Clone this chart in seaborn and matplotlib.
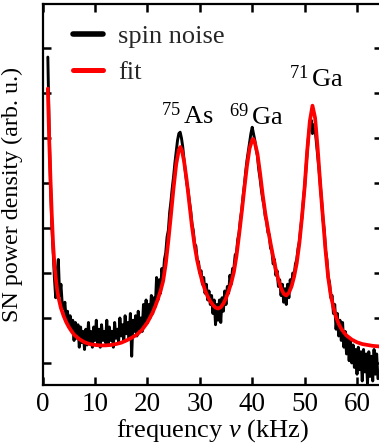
import numpy as np
import pandas as pd
import matplotlib
matplotlib.use("Agg")
import matplotlib.pyplot as plt
import seaborn as sns

# ---- data ----
# measured spin-noise spectrum, sampled every 0.25 kHz from 1.0 to 64.0 kHz
noise_start, noise_step = 1.0, 0.25
noise_values = [
    7.8, 6.2, 5.0, 4.1, 3.5, 2.9, 2.45, 3.0, 3.3, 2.5, 2.75, 2.3,
    2.2, 2.35, 1.95, 2.15, 1.8, 2.05, 1.75, 1.95, 1.5, 1.9, 1.55, 1.85,
    1.35, 1.8, 1.45, 1.7, 1.3, 1.75, 1.4, 1.9, 1.45, 1.7, 1.35, 1.8,
    1.5, 1.95, 1.4, 1.75, 1.35, 1.85, 1.5, 1.7, 1.45, 1.95, 1.4, 1.8,
    1.5, 1.7, 1.35, 1.9, 1.55, 1.75, 1.45, 2.0, 1.6, 1.85, 1.5, 2.05,
    1.65, 1.9, 1.55, 2.1, 1.15, 1.95, 1.7, 2.05, 1.6, 2.15, 1.75, 2.0,
    1.7, 2.3, 1.85, 2.4, 1.9, 2.3, 2.0, 2.5, 2.1, 2.45, 2.25, 2.9,
    2.4, 2.85, 2.55, 3.1, 2.9, 3.3, 3.45, 3.8, 3.95, 4.35, 4.6, 4.9,
    5.15, 5.45, 5.7, 5.95, 6.1, 6.13, 6.0, 5.8, 5.5, 5.25, 5.0, 4.85,
    4.6, 4.4, 4.1, 3.95, 3.65, 3.6, 3.3, 3.25, 3.0, 3.05, 2.75, 2.9,
    2.55, 2.75, 2.4, 2.6, 2.3, 2.5, 2.1, 2.4, 1.85, 2.3, 1.95, 2.4,
    1.9, 2.45, 2.15, 2.6, 2.3, 2.7, 2.55, 2.95, 2.75, 3.1, 3.1, 3.4,
    3.45, 3.75, 3.9, 4.2, 4.4, 4.7, 4.95, 5.25, 5.5, 5.7, 5.9, 6.1,
    6.24, 6.1, 5.95, 5.75, 5.6, 5.3, 5.1, 4.85, 4.65, 4.5, 4.25, 4.15,
    3.9, 3.85, 3.55, 3.5, 3.2, 3.3, 2.95, 3.05, 2.7, 2.85, 2.5, 2.75,
    2.35, 2.65, 2.3, 2.75, 2.45, 2.85, 2.7, 3.0, 2.95, 3.2, 3.3, 3.55,
    3.7, 4.0, 4.25, 4.6, 4.9, 5.3, 5.7, 6.05, 6.3, 6.4, 6.1, 6.3,
    6.2, 5.9, 5.6, 5.3, 4.95, 4.6, 4.2, 3.95, 3.5, 3.3, 2.9, 2.8,
    2.45, 2.5, 2.1, 2.3, 1.75, 2.1, 1.6, 1.95, 1.5, 1.9, 1.35, 1.7,
    1.2, 1.55, 1.05, 1.5, 1.0, 1.4, 0.9, 1.3, 0.75, 1.35, 0.85, 1.25,
    0.6, 1.3, 0.8, 1.2, 0.55, 1.25, 0.7, 1.15, 0.6, 1.3, 0.75, 1.2,
    0.65,
]

# fit curve (frequency in kHz, power in arb. u.)
fit_freq = [
    1.0, 1.25, 1.5, 1.75, 2.0, 2.25, 2.5, 2.75, 3.0, 3.5, 4.0, 4.5, 5.0, 5.5,
    6.0, 7.0, 8.0, 9.0, 10, 11, 12, 13, 14, 15, 16, 17, 18, 19, 20, 21,
    21.5, 22, 22.5, 23, 23.5, 24, 24.5, 25, 25.5, 26, 26.3, 26.6, 27, 27.5,
    28, 28.5, 29, 29.5, 30, 30.5, 31, 31.5, 32, 32.5, 33, 33.5, 34, 34.5,
    35, 35.5, 36, 36.5, 37, 37.5, 38, 38.5, 39, 39.5, 40, 40.2, 40.5, 41,
    41.5, 42, 42.5, 43, 43.5, 44, 44.5, 45, 45.5, 46, 46.5, 47, 47.5, 48,
    48.5, 49, 49.5, 50, 50.5, 51, 51.5, 52, 52.5, 53, 53.5, 54, 54.5, 55,
    55.5, 56, 56.5, 57, 57.5, 58, 59, 60, 61, 62, 63, 64, 64.8,
]
fit_values = [
    7.1, 6.0, 5.1, 4.3, 3.65, 3.2, 2.9, 2.65, 2.47, 2.22, 2.05, 1.91, 1.8, 1.71,
    1.63, 1.53, 1.46, 1.42, 1.4, 1.39, 1.39, 1.4, 1.42, 1.45, 1.5, 1.56, 1.63, 1.74, 1.9, 2.12,
    2.26, 2.42, 2.6, 2.82, 3.2, 3.72, 4.3, 4.9, 5.42, 5.74, 5.8, 5.72, 5.48, 5.06,
    4.55, 4.04, 3.62, 3.28, 3.02, 2.8, 2.62, 2.48, 2.37, 2.29, 2.23, 2.21, 2.24, 2.32,
    2.44, 2.6, 2.78, 3.02, 3.38, 3.85, 4.35, 4.88, 5.38, 5.77, 5.96, 5.98, 5.9, 5.65,
    5.22, 4.74, 4.32, 3.98, 3.66, 3.36, 3.08, 2.85, 2.66, 2.54, 2.5, 2.56, 2.7, 2.92,
    3.22, 3.66, 4.24, 4.9, 5.72, 6.38, 6.72, 6.45, 5.76, 4.95, 4.22, 3.5, 2.9, 2.5,
    2.24, 2.02, 1.87, 1.76, 1.68, 1.61, 1.52, 1.46, 1.42, 1.4, 1.38, 1.37, 1.36,
]

x_ticks = [0, 10, 20, 30, 40, 50, 60]
y_ticks = [1, 2, 3, 4, 5, 6, 7, 8]

peak_labels = [r"$^{75}\,$As", r"$^{69}\,$Ga", r"$^{71}\,$Ga"]
peak_label_x = [27.6, 40.8, 52.2]
peak_label_y = [6.32, 6.3, 7.14]

# ---- style ----
sns.set_theme(style="ticks")
plt.rcParams["font.family"] = ["Liberation Serif", "DejaVu Serif"]
plt.rcParams["mathtext.fontset"] = "custom"
plt.rcParams["mathtext.rm"] = "Liberation Serif"
plt.rcParams["mathtext.it"] = "Liberation Serif:italic"

noise_freq = noise_start + noise_step * np.arange(len(noise_values))
df_noise = pd.DataFrame({"f": noise_freq, "p": noise_values})
df_fit = pd.DataFrame({"f": fit_freq, "p": fit_values})

fig = plt.figure(figsize=(3.79, 4.46), dpi=100)
ax = fig.add_axes([42.6 / 379, 61 / 446, (382 - 42.6) / 379, 381 / 446])

sns.lineplot(data=df_noise, x="f", y="p", ax=ax, color="black", lw=2.1,
             estimator=None, sort=False, label="spin noise")
sns.lineplot(data=df_fit, x="f", y="p", ax=ax, color="#ff0000", lw=2.7,
             estimator=None, sort=False, label="fit")

ax.set_xlim(0, 64.77)
ax.set_ylim(0.51, 8.98)
ax.set_xticks(x_ticks)
ax.set_yticks(y_ticks)
ax.set_yticklabels([])
ax.tick_params(direction="in", length=6, width=1.8, top=True, right=True,
               labelsize=19.5, pad=5, color="black", labelcolor="black")
for s in ax.spines.values():
    s.set_linewidth(1.6)
    s.set_color("black")

ax.set_xlabel(r"frequency $\nu$ (kHz)", fontsize=19, labelpad=0, color="black")
ax.set_ylabel("SN power density (arb. u.)", fontsize=17.3, labelpad=9, color="black")

for lab, lx, ly in zip(peak_labels, peak_label_x, peak_label_y):
    ax.text(lx, ly, lab, fontsize=19, ha="center", va="baseline", color="black")

leg = ax.legend(loc="upper left", bbox_to_anchor=(73 / 379, 1 - 25 / 446),
                bbox_transform=fig.transFigure, frameon=False, fontsize=19,
                handlelength=1.15, handletextpad=0.55, labelspacing=0.45,
                borderpad=0, borderaxespad=0)
for h, w in zip(leg.get_lines(), [4.0, 3.6]):
    h.set_linewidth(w)

fig.savefig("out.png", dpi=100)
